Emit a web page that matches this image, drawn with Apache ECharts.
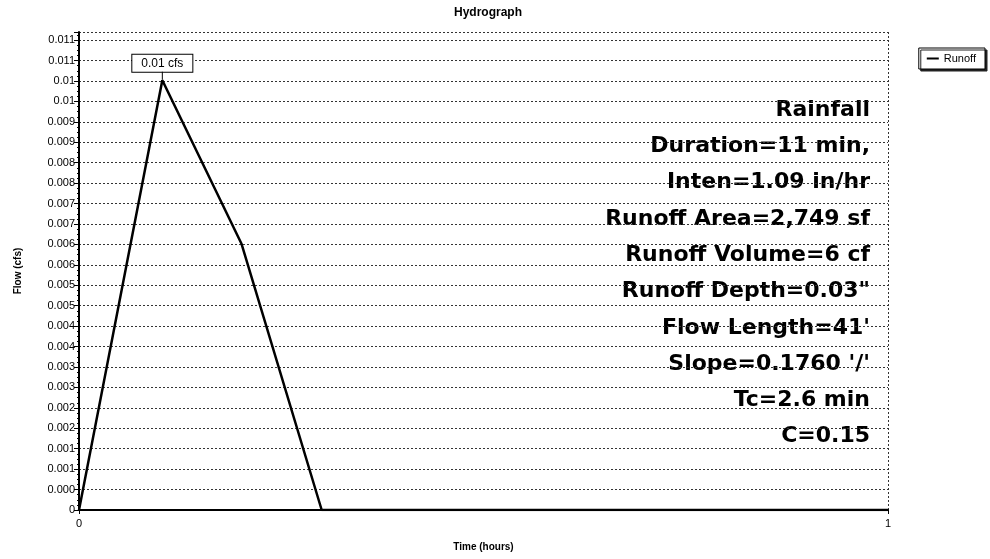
<!DOCTYPE html>
<html>
<head>
<meta charset="utf-8">
<title>Hydrograph</title>
<script src="https://cdn.jsdelivr.net/npm/echarts@6/dist/echarts.min.js"></script>
<style>
	html, body { margin: 0; padding: 0; background: #fff; }
	#chart { width: 990px; height: 559px; }
</style>
</head>
<body>
<div id="chart"></div>
<script>
// time (hours) and flow (cfs) of the runoff hydrograph
const times = [0, 0.103, 0.201, 0.3, 1];
const flows = [0, 0.01052, 0.00651, 0, 0];
// y tick labels as printed, from 0 up in steps of 0.0005
const yTickLabels = ['0', '0.000', '0.001', '0.001', '0.002', '0.002', '0.003', '0.003',
	'0.004', '0.004', '0.005', '0.005', '0.006', '0.006', '0.007', '0.007',
	'0.008', '0.008', '0.009', '0.009', '0.01', '0.01', '0.011', '0.011'];
const peakIndex = 1;
const peakLabel = '0.01 cfs';
const notes = ['Rainfall', 'Duration=11 min,', 'Inten=1.09 in/hr', 'Runoff Area=2,749 sf',
	'Runoff Volume=6 cf', 'Runoff Depth=0.03"', "Flow Length=41'", "Slope=0.1760 '/'",
	'Tc=2.6 min', 'C=0.15'];

const myChart = echarts.init(document.getElementById('chart'));
const data = times.map((t, i) => {
	const item = { value: [t, flows[i]] };
	if (i === peakIndex) {
		item.label = {
			show: true,
			position: 'top',
			distance: 0,
			align: 'center',
			formatter: '{box|' + peakLabel + '}\n{stem|}',
			rich: {
				box: {
					fontFamily: 'Liberation Sans',
					fontSize: 12,
					color: '#000',
					backgroundColor: '#fff',
					borderColor: '#000',
					borderWidth: 1,
					padding: [3, 9, 2, 9],
				},
				stem: { width: 1, height: 8, backgroundColor: '#000' },
			},
		};
	}
	return item;
});

const notesGraphic = notes.map((line, i) => ({
	type: 'text',
	right: 120,
	top: 99 + i * 36.3,
	style: {
		text: line,
		fontFamily: 'DejaVu Sans',
		fontSize: 22,
		fontWeight: 'bold',
		fill: '#000',
	},
}));

const option = {
	animation: false,
	title: {
		text: 'Hydrograph',
		left: 483,
		textAlign: 'center',
		top: 2,
		textStyle: { fontFamily: 'Liberation Sans', fontSize: 12, fontWeight: 'bold', color: '#000' },
	},
	legend: {
		right: 5,
		top: 48,
		orient: 'vertical',
		data: ['Runoff'],
		icon: 'rect',
		itemWidth: 12,
		itemHeight: 2,
		itemGap: 4,
		padding: [5, 9, 5, 8],
		borderColor: '#000',
		borderWidth: 1,
		backgroundColor: '#fff',
		shadowColor: '#222',
		shadowOffsetX: 2,
		shadowOffsetY: 2,
		textStyle: { fontFamily: 'Liberation Sans', fontSize: 11, color: '#000' },
	},
	grid: { left: 79, right: 102, top: 32, bottom: 49 },
	xAxis: {
		type: 'value',
		min: 0,
		max: 1,
		interval: 1,
		name: 'Time (hours)',
		nameLocation: 'middle',
		nameGap: 32,
		nameTextStyle: { fontFamily: 'Liberation Sans', fontSize: 10, fontWeight: 'bold', color: '#000' },
		axisLine: { lineStyle: { color: '#000', width: 2 } },
		axisTick: { show: true, length: 4, lineStyle: { color: '#000' } },
		axisLabel: { fontFamily: 'Liberation Sans', fontSize: 11, color: '#000', margin: 8 },
		splitLine: { show: true, lineStyle: { color: '#333', type: [2, 2], width: 1 } },
	},
	yAxis: {
		type: 'value',
		min: 0,
		max: 0.0117,
		interval: 0.0005,
		name: 'Flow (cfs)',
		nameLocation: 'middle',
		nameGap: 56,
		nameTextStyle: { fontFamily: 'Liberation Sans', fontSize: 10, fontWeight: 'bold', color: '#000' },
		axisLine: { show: true, lineStyle: { color: '#000', width: 2 } },
		axisTick: { show: true, length: 5, lineStyle: { color: '#000' } },
		minorTick: { show: true, splitNumber: 4, length: 2, lineStyle: { color: '#000' } },
		axisLabel: {
			showMaxLabel: false,
			fontFamily: 'Liberation Sans',
			fontSize: 11,
			color: '#000',
			margin: 4,
			formatter: (v) => {
				const i = Math.round(v / 0.0005);
				return yTickLabels[i] !== undefined ? yTickLabels[i] : '';
			},
		},
		splitLine: { show: true, lineStyle: { color: '#333', type: [2, 2], width: 1 } },
	},
	graphic: notesGraphic,
	series: [{
		name: 'Runoff',
		type: 'line',
		data: data,
		showSymbol: true,
		symbol: 'circle',
		symbolSize: 1,
		color: '#000',
		itemStyle: { color: '#000' },
		lineStyle: { color: '#000', width: 2.5 },
	}],
};
myChart.setOption(option);
</script>
</body>
</html>
